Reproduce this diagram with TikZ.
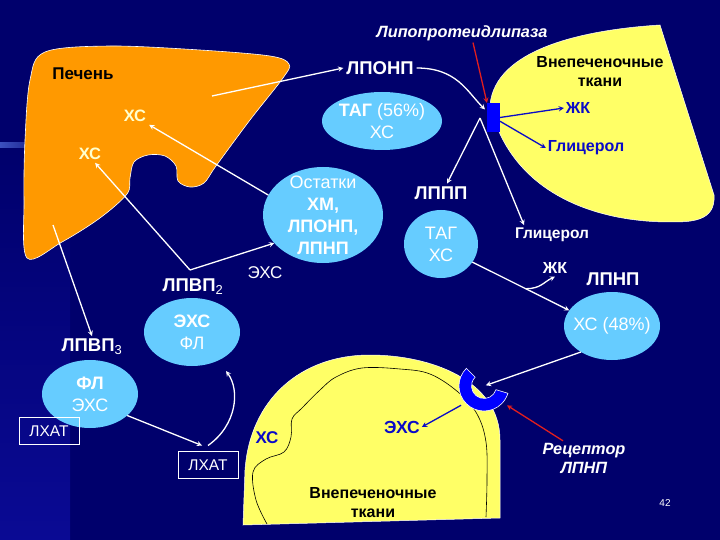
\documentclass[tikz,border=0pt]{standalone}
\usepackage{fontspec}
\setmainfont{Liberation Sans}
\usetikzlibrary{shapes.geometric,calc}
\definecolor{navy}{RGB}{0,0,108}
\definecolor{navylt}{RGB}{10,10,148}
\definecolor{streak}{RGB}{60,80,190}
\definecolor{liver}{RGB}{255,153,0}
\definecolor{tissue}{RGB}{255,255,102}
\definecolor{cellblue}{RGB}{102,204,255}
\definecolor{enzblue}{RGB}{0,0,255}
\definecolor{lbldark}{RGB}{10,10,200}
\definecolor{lipred}{RGB}{225,30,30}
\definecolor{xsyel}{RGB}{255,255,205}

\begin{document}
\begin{tikzpicture}[x=1pt,y=-1pt,inner sep=0pt,outer sep=0pt,>=stealth,
lbl/.style={text=white,font=\bfseries\fontsize{18.5}{21}\selectfont,outer sep=3pt},
lbln/.style={text=white,font=\fontsize{17}{20}\selectfont,outer sep=3pt},
xslbl/.style={text=xsyel,font=\bfseries\fontsize{16.5}{19}\selectfont,outer sep=3pt},
bluelbl/.style={text=lbldark,font=\bfseries\fontsize{16}{19}\selectfont,outer sep=2pt},
darklbl/.style={text=black,font=\bfseries\fontsize{16}{19}\selectfont,align=center},
itlbl/.style={text=white,font=\bfseries\itshape\fontsize{16.3}{19}\selectfont,align=center,outer sep=2pt},
cell/.style={ellipse,fill=cellblue},
celltext/.style={text=white,align=center,font=\fontsize{18}{22}\selectfont},
lcat/.style={draw=white,line width=0.8pt,text=white,minimum width=60pt,minimum height=27pt,
  font=\fontsize{15.5}{18}\selectfont,outer sep=6pt},
warr/.style={->,white,line width=1.3pt},
barr/.style={->,lbldark,line width=1.3pt},
rarr/.style={->,lipred,line width=1.3pt}]

\fill[navy] (0,0) rectangle (720,540);
\useasboundingbox (0,0) rectangle (720,540);
\shade[top color=navy,bottom color=navylt] (0,150) rectangle (70,540);
\shade[left color=streak,right color=navy] (0,143) rectangle (60,148);

\fill[liver,draw=white,line width=0.6pt] plot[smooth cycle,tension=0.55] coordinates {(27,258) (24,200) (25,140) (30,80) (45,52) (110,46) (200,50) (270,56) (289,64) (283,78) (250,120) (216,166) (204,183) (190,187) (178,181) (176,166) (165,156) (148,155) (134,162) (130,178) (127,194) (100,218) (62,242)};
\fill[tissue,draw=white,line width=0.5pt] (490,105) .. controls (495,50) and (580,30) .. (660,25) -- (714,195) .. controls (716,222) and (690,222) .. (670,222) .. controls (590,222) and (510,190) .. (490,105) -- cycle;
\fill[tissue,draw=white,line width=0.5pt] (243,525) -- (245,470) .. controls (250,400) and (300,355) .. (370,355) .. controls (430,355) and (500,380) .. (500,440) -- (500,518) -- cycle;
\draw[black,line width=0.6pt] plot[smooth,tension=0.6] coordinates {(267,524) (256,500) (253,472) (266,459) (284,452) (291,437) (292,419) (302,408) (320,390) (336,377) (362,368) (400,369) (430,374) (458,392) (477,414) (486,442) (487,480) (486,517)};

\coordinate (lvA) at (212,96);
\coordinate (lvB) at (53,225);
\coordinate (hub) at (480,118);
\coordinate (hdlfork) at (190,270);
\coordinate (lcatup) at (226,371);
\coordinate (rcpt) at (484,386);
\coordinate (rcptR) at ($(rcpt)+(40:30)$);
\coordinate (rcptL) at ($(rcpt)+(140:30)$);

\draw (83,74) node[darklbl,font=\bfseries\fontsize{17}{19}\selectfont] (pech) {Печень};
\draw (135,116) node[xslbl] (xs1) {ХС};
\draw (90,154) node[xslbl] (xs2) {ХС};
\draw (380,68) node[lbl] (lponp) {ЛПОНП};
\draw (462,33) node[itlbl] (lpltxt) {Липопротеидлипаза};
\draw (600,72) node[darklbl] (tkani1) {Внепеченочные\\ткани};
\draw (493.5,117.5) node[fill=enzblue,minimum width=13pt,minimum height=29pt] (lpl) {};
\draw (578,108) node[bluelbl] (zk1) {ЖК};
\draw (586,148) node[bluelbl] (glyc1) {Глицерол};

\draw (382,121) node[cell,minimum width=120pt,minimum height=58pt,
  label={[celltext]center:{\textbf{ТАГ} (56\%)\\ХС}}] (tag) {};
\draw (323,215) node[cell,minimum width=120pt,minimum height=96pt,
  label={[celltext]center:{Остатки\\\textbf{ХМ,}\\\textbf{ЛПОНП,}\\\textbf{ЛПНП}}}] (ost) {};
\draw (441,193) node[lbl] (lppp) {ЛППП};
\draw (441,244) node[cell,minimum width=74pt,minimum height=68pt,
  label={[celltext]center:{ТАГ\\ХС}}] (tagxs) {};
\draw (552,235) node[lbl,font=\bfseries\fontsize{15.5}{19}\selectfont] (glyc2) {Глицерол};
\draw (555,268) node[lbl,font=\bfseries\fontsize{16}{19}\selectfont] (zk2) {ЖК};
\draw (613,279) node[lbl] (ldllbl) {ЛПНП};
\draw (612,326) node[cell,minimum width=96pt,minimum height=68pt,
  label={[celltext]center:{ХС (48\%)}}] (ldl) {};

\draw (193,287) node[lbl] (hdl2) {ЛПВП\textsubscript{\mdseries 2}};
\draw (265,273) node[lbln] (ehs1) {ЭХС};
\draw (92,347) node[lbl] (hdl3) {ЛПВП\textsubscript{\mdseries 3}};
\draw (192,332) node[cell,minimum width=96pt,minimum height=68pt,
  label={[celltext]center:{\textbf{ЭХС}\\ФЛ}}] (ehs) {};
\draw (90,394) node[cell,minimum width=96pt,minimum height=68pt,
  label={[celltext]center:{\textbf{ФЛ}\\ЭХС}}] (fl) {};
\draw (49,431) node[lcat] (lcat1) {ЛХАТ};
\draw (208,465) node[lcat] (lcat2) {ЛХАТ};

\draw (267,438) node[bluelbl,font=\bfseries\fontsize{17}{20}\selectfont] (xs3) {ХС};
\draw (402,427) node[bluelbl,font=\bfseries\fontsize{17.5}{20}\selectfont] (ehs2) {ЭХС};
\draw (373,503) node[darklbl] (tkani2) {Внепеченочные\\ткани};
\draw (584,458) node[itlbl] (rec) {Рецептор\\ЛПНП};
\draw (665,503) node[text=white,font=\fontsize{10}{12}\selectfont] (pgno) {42};

\draw[warr] (lvA) -- (lponp.west);
\draw[warr] (lponp.east) .. controls ($(lponp.east)+(40,0)$) and ($(lpl.west)+(-20,-26)$) .. ($(lpl.west)+(-2,-8)$);
\draw[rarr] ([xshift=11pt]lpltxt.south) -- (lpl.north west);
\draw[barr] (lpl.east) -- (zk1.west);
\draw[barr] (lpl.-30) -- (glyc1.west);
\draw[warr] (hub) -- ([xshift=6pt]lppp.north);
\draw[warr] (hub) -- ([xshift=12pt]glyc2.north west);
\draw[warr] (tagxs.-30) -- (ldl.160);
\coordinate (zkfork) at ($(tagxs.-30)!0.55!(ldl.160)$);
\draw[warr] (zkfork) .. controls ($(zkfork)+(15,0)$) and ($(zk2.south)+(-12,6)$) .. (zk2.south);
\draw[warr] (ost.160) -- (xs1.south east);
\draw[warr] (hdlfork) -- (xs2.-60);
\draw[warr] (hdlfork) -- (ost.-150);
\draw[warr] (lvB) -- (hdl3.north);
\draw[warr] (fl.-30) -- ([xshift=-6pt]lcat2.north);
\draw[warr] (lcat2.north) .. controls (237,425) and (240,390) .. (lcatup);

\fill[enzblue,draw=white,line width=0.6pt] ($(rcpt)+(225:25)$) arc[start angle=225,end angle=17,radius=25]
  -- ($(rcpt)+(17:12.5)$) arc[start angle=17,end angle=225,radius=12.5] -- cycle;
\draw[warr,shorten >=2pt] (ldl.-140) -- (rcpt);
\draw[rarr] ([xshift=-21pt]rec.north) -- (rcptR);
\draw[barr] (rcptL) -- (ehs2.east);

\end{tikzpicture}
\end{document}
